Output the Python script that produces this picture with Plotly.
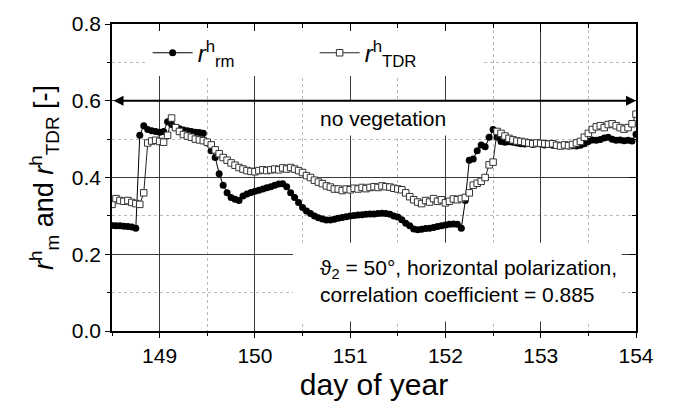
import plotly.graph_objects as go

# hourly samples starting at day 148.5
start_day = 148.5
step = 1 / 24

r_rm = [
    0.275, 0.274, 0.274, 0.273, 0.272, 0.271, 0.268, 0.510, 0.535, 0.525,
    0.522, 0.520, 0.518, 0.520, 0.545, 0.538, 0.530, 0.527, 0.524, 0.522,
    0.520, 0.518, 0.517, 0.515, 0.490, 0.470, 0.452, 0.410, 0.380, 0.360,
    0.348, 0.343, 0.340, 0.352, 0.357, 0.361, 0.364, 0.367, 0.370, 0.373,
    0.376, 0.380, 0.383, 0.384, 0.376, 0.360, 0.348, 0.335, 0.322, 0.313,
    0.306, 0.300, 0.295, 0.292, 0.289, 0.289, 0.291, 0.294, 0.296, 0.298,
    0.300, 0.301, 0.302, 0.303, 0.304, 0.305, 0.305, 0.306, 0.307, 0.306,
    0.304, 0.300, 0.297, 0.290, 0.281, 0.274, 0.266, 0.264, 0.265, 0.267,
    0.268, 0.270, 0.272, 0.274, 0.276, 0.278, 0.279, 0.278, 0.268, 0.340,
    0.445, 0.448, 0.470, 0.485, 0.480, 0.505, 0.525, 0.505, 0.494, 0.492,
    0.493, 0.492, 0.490, 0.488, 0.487, 0.489, 0.486, 0.488, 0.487, 0.485,
    0.486, 0.484, 0.485, 0.483, 0.484, 0.482, 0.483, 0.482, 0.484, 0.488,
    0.494, 0.498, 0.497, 0.499, 0.503, 0.505, 0.500, 0.497, 0.498, 0.496,
    0.497, 0.495, 0.513,
]

r_tdr = [
    0.330, 0.345, 0.340, 0.338, 0.340, 0.335, 0.332, 0.330, 0.360, 0.490,
    0.495, 0.497, 0.494, 0.492, 0.510, 0.555, 0.530, 0.520, 0.512, 0.508,
    0.505, 0.500, 0.498, 0.496, 0.492, 0.485, 0.472, 0.462, 0.452, 0.445,
    0.438, 0.432, 0.426, 0.422, 0.418, 0.416, 0.415, 0.418, 0.420, 0.418,
    0.420, 0.422, 0.420, 0.425, 0.422, 0.426, 0.422, 0.418, 0.413, 0.405,
    0.400, 0.393, 0.388, 0.384, 0.378, 0.375, 0.370, 0.370, 0.366, 0.370,
    0.368, 0.372, 0.370, 0.374, 0.371, 0.374, 0.376, 0.374, 0.378, 0.376,
    0.375, 0.372, 0.370, 0.368, 0.360, 0.350, 0.342, 0.336, 0.332, 0.340,
    0.336, 0.345, 0.338, 0.342, 0.334, 0.338, 0.344, 0.342, 0.345, 0.348,
    0.360, 0.380, 0.385, 0.390, 0.400, 0.433, 0.440, 0.520, 0.515, 0.508,
    0.502, 0.498, 0.495, 0.494, 0.492, 0.490, 0.488, 0.490, 0.489, 0.488,
    0.487, 0.488, 0.484, 0.482, 0.485, 0.483, 0.486, 0.490, 0.494, 0.505,
    0.515, 0.525, 0.532, 0.535, 0.530, 0.538, 0.540, 0.535, 0.530, 0.526,
    0.530, 0.540, 0.565,
]

days = [start_day + i * step for i in range(len(r_rm))]

x_ticks = [149, 150, 151, 152, 153, 154]
y_ticks = [0.0, 0.2, 0.4, 0.6, 0.8]
y_tick_text = ["0.0", "0.2", "0.4", "0.6", "0.8"]

FONT = "Arial, Liberation Sans, sans-serif"

fig = go.Figure()
fig.add_trace(go.Scatter(
    x=days, y=r_rm, mode="lines+markers",
    name="<i>r</i><sup>h</sup><sub>rm</sub>",
    line=dict(color="black", width=1),
    marker=dict(symbol="circle", size=7, color="black"),
))
fig.add_trace(go.Scatter(
    x=days, y=r_tdr, mode="lines+markers",
    name="<i>r</i><sup>h</sup><sub>TDR</sub>",
    line=dict(color="#222", width=1),
    marker=dict(symbol="square", size=6.5, color="white",
                line=dict(color="#333", width=1)),
))
# invisible helper traces so that the mirrored (inward-ticked) axes are drawn
fig.add_trace(go.Scatter(x=[], y=[], xaxis="x2", yaxis="y", showlegend=False, hoverinfo="skip"))
fig.add_trace(go.Scatter(x=[], y=[], xaxis="x", yaxis="y2", showlegend=False, hoverinfo="skip"))

grid_major = "#3a3a3a"
grid_minor = "#b8b8b8"

fig.update_layout(
    width=686, height=408,
    margin=dict(l=112, r=50, t=17, b=74),
    paper_bgcolor="white", plot_bgcolor="white",
    font=dict(family=FONT, color="black"),
    showlegend=True,
    legend=dict(
        orientation="h", x=0.068, y=0.905, xanchor="left", yanchor="middle",
        bgcolor="white", borderwidth=0, font=dict(size=24, family=FONT),
        entrywidth=112, entrywidthmode="pixels", itemwidth=40,
    ),
    xaxis=dict(
        range=[148.5, 154], tickvals=x_ticks, ticktext=[str(v) for v in x_ticks],
        ticks="outside", ticklen=5, tickwidth=1, tickcolor="black",
        tickfont=dict(size=21, family=FONT),
        showline=True, linecolor="black", linewidth=1.5,
        showgrid=True, gridcolor=grid_major, gridwidth=1,
        minor=dict(dtick=0.5, tick0=148.5, ticks="outside", ticklen=3, tickcolor="black",
                   showgrid=True, gridcolor=grid_minor, griddash="dot", gridwidth=1),
        zeroline=False,
        title=dict(text="day of year", font=dict(size=30, family=FONT), standoff=8),
    ),
    xaxis2=dict(
        overlaying="x", matches="x", side="top", anchor="y",
        range=[148.5, 154], tickvals=x_ticks, showticklabels=False,
        ticks="inside", ticklen=8, tickcolor="black",
        minor=dict(dtick=0.5, tick0=148.5, ticks="inside", ticklen=4, tickcolor="black", showgrid=False),
        showline=True, linecolor="black", linewidth=1.5, showgrid=False, zeroline=False,
    ),
    yaxis=dict(
        range=[0.0, 0.8], tickvals=y_ticks, ticktext=y_tick_text,
        ticks="outside", ticklen=5, tickwidth=1, tickcolor="black",
        tickfont=dict(size=21, family=FONT),
        showline=True, linecolor="black", linewidth=1.5,
        showgrid=True, gridcolor=grid_major, gridwidth=1,
        minor=dict(dtick=0.1, tick0=0, ticks="outside", ticklen=3, tickcolor="black",
                   showgrid=True, gridcolor=grid_minor, griddash="dot", gridwidth=1),
        zeroline=False,
        title=dict(text="<i>r</i><sup>h</sup><sub>m</sub> and <i>r</i><sup>h</sup><sub>TDR</sub> [-]",
                   font=dict(size=27, family=FONT), standoff=10),
    ),
    yaxis2=dict(
        overlaying="y", matches="y", side="right", anchor="x",
        range=[0.0, 0.8], tickvals=y_ticks, showticklabels=False,
        ticks="inside", ticklen=7, tickcolor="black",
        minor=dict(dtick=0.1, tick0=0, ticks="inside", ticklen=4, tickcolor="black", showgrid=False),
        showline=True, linecolor="black", linewidth=1.5, showgrid=False, zeroline=False,
    ),
    shapes=[
        # white panel behind the parameter note (masks the grid only)
        dict(type="rect", xref="x", yref="y", x0=150.40, x1=153.85, y0=0.025, y1=0.23,
             fillcolor="white", line=dict(width=0), layer="between"),
    ],
    annotations=[
        dict(text="no vegetation", xref="x", yref="y", x=151.34, y=0.553,
             showarrow=False, font=dict(size=21, family=FONT), bgcolor="white", borderpad=5),
        dict(text="", xref="x", yref="y", x=154, y=0.6, ax=148.5, ay=0.6,
             axref="x", ayref="y", showarrow=True, arrowhead=2, arrowside="end+start",
             arrowsize=1, arrowwidth=2, arrowcolor="black", standoff=0, startstandoff=0),
        dict(text="ϑ<sub>2</sub> = 50°, horizontal polarization,<br>correlation coefficient = 0.885",
             xref="x", yref="y", x=150.66, y=0.13, xanchor="left", yanchor="middle",
             align="left", showarrow=False, font=dict(size=21, family=FONT)),
    ],
)

fig.write_html("out.html")
